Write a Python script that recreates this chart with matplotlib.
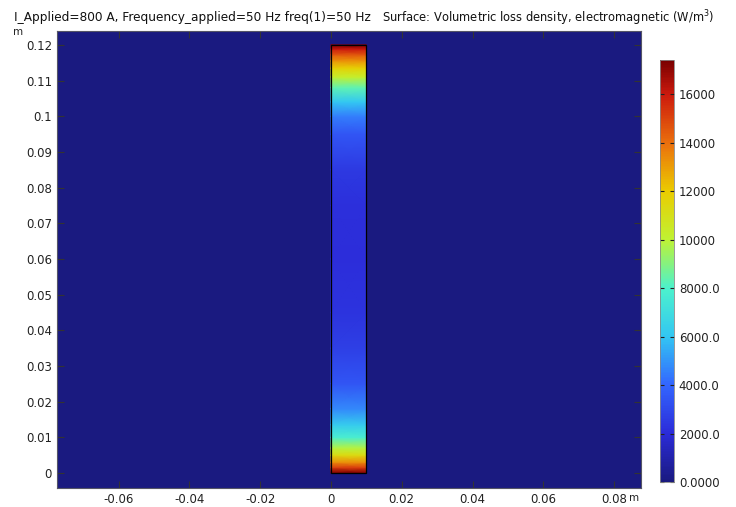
import numpy as np
import matplotlib
matplotlib.use("Agg")
import matplotlib.pyplot as plt
from matplotlib.colors import LinearSegmentedColormap
from matplotlib.patches import Rectangle

# conductor cross-section (m)
bar_x = [0.0, 0.01]
bar_y0, bar_y1 = 0.0, 0.12

# loss density along the bar height (W/m^3)
y_pos = [0.0, 0.0015, 0.003, 0.005, 0.007, 0.010, 0.0135, 0.018, 0.025, 0.035,
         0.045, 0.060, 0.075, 0.085, 0.095, 0.100, 0.104, 0.108, 0.111, 0.1135,
         0.1155, 0.1172, 0.1188, 0.12]
loss = [17400, 15200, 13300, 11300, 9800, 7800, 6200, 4700, 3400, 2700,
        2300, 2050, 2150, 2500, 3400, 4500, 6000, 8300, 10200, 11800,
        13200, 14500, 16000, 17400]

x_ticks = [-0.06, -0.04, -0.02, 0, 0.02, 0.04, 0.06, 0.08]
x_labels = ["-0.06", "-0.04", "-0.02", "0", "0.02", "0.04", "0.06", "0.08"]
y_ticks = [0, 0.01, 0.02, 0.03, 0.04, 0.05, 0.06, 0.07, 0.08, 0.09, 0.1, 0.11, 0.12]
y_labels = ["0", "0.01", "0.02", "0.03", "0.04", "0.05", "0.06", "0.07", "0.08",
            "0.09", "0.1", "0.11", "0.12"]
cb_ticks = [0, 2000, 4000, 6000, 8000, 10000, 12000, 14000, 16000]
cb_labels = ["0.0000", "2000.0", "4000.0", "6000.0", "8000.0", "10000", "12000", "14000", "16000"]
vmax = 17400

# COMSOL-like rainbow
cmap = LinearSegmentedColormap.from_list("comsol", [
    (0.00, (0.10, 0.10, 0.50)),
    (0.115, (0.17, 0.17, 0.85)),
    (0.23, (0.20, 0.40, 1.00)),
    (0.345, (0.20, 0.78, 0.95)),
    (0.46, (0.30, 0.95, 0.80)),
    (0.575, (0.75, 0.95, 0.20)),
    (0.69, (0.92, 0.80, 0.00)),
    (0.80, (0.92, 0.45, 0.05)),
    (0.92, (0.80, 0.10, 0.05)),
    (1.00, (0.48, 0.00, 0.00)),
])

fig = plt.figure(figsize=(7.36, 5.07), dpi=100)
ax = fig.add_axes([0.0774, 0.0375, 0.7935, 0.9014])
ax.set_facecolor(cmap(0.0))

X, Y = np.meshgrid(bar_x, y_pos)
Z = np.column_stack([loss, loss])
mesh = ax.pcolormesh(X, Y, Z, cmap=cmap, vmin=0, vmax=vmax, shading="gouraud")
ax.add_patch(Rectangle((bar_x[0], bar_y0), bar_x[1] - bar_x[0], bar_y1 - bar_y0,
                       fill=False, edgecolor="black", lw=0.9))

ax.set_xlim(-0.0774, 0.0876)
ax.set_ylim(-0.0042, 0.1239)
ax.set_xticks(x_ticks)
ax.set_xticklabels(x_labels)
ax.set_yticks(y_ticks)
ax.set_yticklabels(y_labels)
ax.tick_params(direction="in", top=True, right=True, length=5, width=0.8,
               color="#333333", labelsize=8.5, labelcolor="#222222")
for s in ax.spines.values():
    s.set_color("#555566")
    s.set_linewidth(0.8)

fig.text(0.855, 0.017, "m", fontsize=7.5, color="#222222", ha="left", va="center")
fig.text(0.018, 0.937, "m", fontsize=7.5, color="#222222", ha="left", va="center")

fig.text(0.019, 0.966, "I_Applied=800 A, Frequency_applied=50 Hz freq(1)=50 Hz",
         fontsize=8.7, color="#111111", ha="left", va="center")
fig.text(0.519, 0.964, "Surface: Volumetric loss density, electromagnetic (W/m$^3$)",
         fontsize=8.3, color="#111111", ha="left", va="center")

cax = fig.add_axes([0.8967, 0.0493, 0.019, 0.832])
cb = fig.colorbar(mesh, cax=cax)
cb.set_ticks(cb_ticks)
cb.set_ticklabels(cb_labels)
cb.ax.tick_params(direction="in", length=3, width=0.8, color="#222222",
                  labelsize=8.5, labelcolor="#222222", left=True, right=True)
cb.outline.set_edgecolor("#888888")
cb.outline.set_linewidth(0.6)

fig.savefig("out.png", dpi=100)
